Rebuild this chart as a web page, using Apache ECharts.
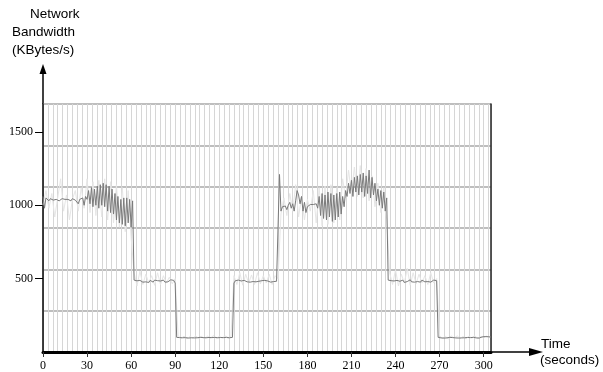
<!DOCTYPE html>
<html>
<head>
<meta charset="utf-8">
<script src="https://cdn.jsdelivr.net/npm/echarts@6/dist/echarts.min.js"></script>
<style>html,body{margin:0;padding:0;background:#fff}#c{width:603px;height:372px}</style>
</head>
<body>
<div id="c"></div>
<script>
// Tick labels
var xTicks = [0, 30, 60, 90, 120, 150, 180, 210, 240, 270, 300];
var yTicks = [500, 1000, 1500];

// Main bandwidth trace (KBytes/s), one value per second, by phase
var phase1 = [1060,980,1050,1040,1030,1045,1040,1035,1045,1040,1040,1030,1040,1045,1035,1040,1030,1040,1045,1030,1045,1040,1035,1045,1010,1040,1030,1050,1000,1060,1040,1100,1010,1120,990,1110,1000,1130,980,1140,1000,1150,990,1140,960,1130,950,1110,940,1080,900,1060,880,1040,870,1050,860,1050,880,1040,850,1030]; // t 0-61
var phase2 = [490,478,485,475,488,480,476,486,478,484,474,488,480,476,490,478,486,475,484,480,490,476,486,478,484,492,480,488,470]; // t 62-90
var phase3 = [100,96,98,95,97,96,98,97,95,96,97,98,96,95,97,96,100,104,98,102,97,104,99,103,98,105,100,104,97,103,99,105,98,104,100,103,97,104,100]; // t 91-129
var phase4 = [470,486,478,490,480,484,476,488,482,478,490,476,486,480,484,478,490,482,476,486,480,488,478,484,490,476,486,480,488,482,490]; // t 130-160
var phase5 = [1210,960,990,985,995,970,1000,1020,980,1010,960,1030,1100,1070,1010,1060,960,1020,950,990,1000,1005,1005,1005,1005,1010,980,1060,930,1080,910,1070,900,1090,920,1080,890,1070,900,1080,920,1090,940,1060,990,1100,1060,1150,1080,1170,1060,1190,1090,1200,1070,1210,1090,1220,1060,1200,1080,1240,1050,1190,1070,1150,1030,1110,1000,1100,980,1090,960,1050]; // t 161-234
var phase6 = [490,478,486,474,484,480,488,476,482,478,490,474,486,480,484,492,478,486,476,488,480,484,476,490,482,478,486,480,488,476,484,490,478,486]; // t 235-268
var phase7 = [100,98,96,97,95,98,96,104,100,103,98,97,96,98,95,97,96,98,97,102,99,104,98,103,100,97,96,98,95,97,103,99,105,100,104,98,102]; // t 269-305

// Faint secondary trace, one value every 2 seconds
var ghost1 = [1000,1100,980,1080,920,1050,1180,960,1070,900,1040,1100,960,1120,980,1180,950,1160,930,1170,920,1180,900,1160,880,1140,850,1120,820,1100,780]; // t 0-60
var ghost2 = [540,450,550,460,530,470,520,455,540,460,520,470,510,465,500]; // t 62-90
var ghost3 = [110,92,108,90,105,95,110,92,106,90,108,94,112,92,106,95,110,92,105]; // t 92-128
var ghost4 = [520,460,540,455,530,470,525,460,540,465,520,470,530,460,520,500]; // t 130-160
var ghost5 = [940,1050,930,1080,960,1140,920,1060,900,1040,960,1100,880,1120,860,1130,870,1140,880,1120,900,1180,1050,1240,1080,1260,1060,1270,1050,1250,1030,1200,990,1150,950,1120,900]; // t 162-234
var ghost6 = [540,460,560,450,530,470,570,455,540,465,530,470,520,460,540,470,500]; // t 236-268
var ghost7 = [110,92,106,90,108,95,110,92,106,90,108,94,110,92,106,95,108,100]; // t 270-304

var mainVals = [].concat(phase1, phase2, phase3, phase4, phase5, phase6, phase7);
var mainData = mainVals.map(function (v, i) { return [i, v]; });
var ghostVals = [].concat(ghost1, ghost2, ghost3, ghost4, ghost5, ghost6, ghost7);
var ghostData = ghostVals.map(function (v, i) { return [i * 2, v]; });

var chart = echarts.init(document.getElementById('c'), null, {renderer: 'canvas'});
var serif = 'Liberation Serif';
function plain(v) { return String(v); }
chart.setOption({
  animation: false,
  backgroundColor: '#fff',
  grid: {left: 43, right: 112, top: 104, bottom: 20},
  xAxis: [
    {
      type: 'value', min: 0, max: 305, position: 'bottom',
      axisLine: {show: true, onZero: false, lineStyle: {color: '#000', width: 3}},
      axisTick: {show: true, customValues: xTicks, length: 5, lineStyle: {color: '#333', width: 1}},
      axisLabel: {customValues: xTicks, formatter: plain, fontFamily: serif, fontSize: 12, color: '#000', margin: 8},
      splitLine: {show: false}
    },
    {
      type: 'value', min: 0, max: 305, interval: 10 / 3, position: 'top',
      axisLine: {show: false, onZero: false}, axisTick: {show: false}, axisLabel: {show: false},
      splitLine: {show: true, lineStyle: {color: '#d6d6d6', width: 1}}
    }
  ],
  yAxis: [
    {
      type: 'value', min: 0, max: 1690, position: 'left',
      axisLine: {show: true, onZero: false, lineStyle: {color: '#000', width: 1.5}},
      axisTick: {show: true, customValues: yTicks, length: 8, lineStyle: {color: '#000', width: 1}},
      axisLabel: {customValues: yTicks, formatter: plain, fontFamily: serif, fontSize: 12, color: '#000', margin: 10},
      splitLine: {show: false}
    },
    {
      type: 'value', min: 0, max: 1690, interval: 1690 / 6, position: 'right',
      axisLine: {show: true, onZero: false, lineStyle: {color: '#222', width: 1.5}},
      axisTick: {show: false}, axisLabel: {show: false},
      splitLine: {show: true, lineStyle: {color: '#a8a8a8', width: 1.5}}
    }
  ],
  series: [
    {
      type: 'line', data: ghostData, xAxisIndex: 0, yAxisIndex: 0,
      showSymbol: false, symbol: 'none', z: 2,
      lineStyle: {color: '#e6e6e6', width: 1}
    },
    {
      type: 'line', data: mainData, xAxisIndex: 0, yAxisIndex: 0,
      showSymbol: false, symbol: 'none', z: 3,
      lineStyle: {color: '#7a7a7a', width: 1}
    }
  ],
  graphic: [
    {type: 'line', shape: {x1: 43, y1: 104, x2: 43, y2: 72}, style: {stroke: '#000', lineWidth: 1.5}},
    {type: 'polygon', shape: {points: [[43, 64], [39.5, 74], [46.5, 74]]}, style: {fill: '#000'}},
    {type: 'line', shape: {x1: 491, y1: 352, x2: 531, y2: 352}, style: {stroke: '#000', lineWidth: 1.5}},
    {type: 'polygon', shape: {points: [[543, 352], [529, 348], [529, 356]]}, style: {fill: '#000'}},
    {type: 'text', left: 30, top: 7, style: {text: 'Network', font: '13.5px "Liberation Sans"', fill: '#000'}},
    {type: 'text', left: 12, top: 25, style: {text: 'Bandwidth', font: '13.5px "Liberation Sans"', fill: '#000'}},
    {type: 'text', left: 12, top: 43, style: {text: '(KBytes/s)', font: '13.5px "Liberation Sans"', fill: '#000'}},
    {type: 'text', left: 541, top: 337, style: {text: 'Time', font: '13.5px "Liberation Sans"', fill: '#000'}},
    {type: 'text', left: 540, top: 353, style: {text: '(seconds)', font: '13.5px "Liberation Sans"', fill: '#000'}}
  ]
});
</script>
</body>
</html>
